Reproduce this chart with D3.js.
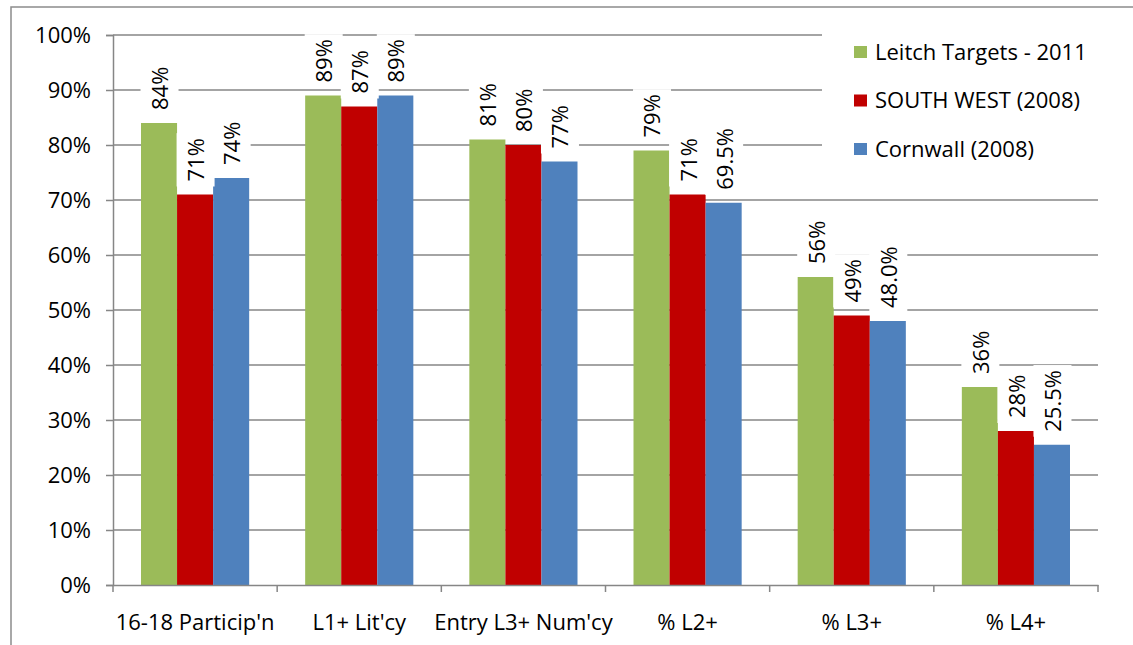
<!DOCTYPE html>
<html><head><meta charset="utf-8">
<script src="https://cdn.jsdelivr.net/npm/d3@7"></script>
<style>body{margin:0;background:#fff}svg{display:block}text{font-family:"Open Sans",sans-serif;fill:#000}</style>
</head><body><svg id="c" width="1133" height="645"></svg>
<script>
const categories = ["16-18 Particip'n", "L1+ Lit'cy", "Entry L3+ Num'cy", "% L2+", "% L3+", "% L4+"];
const seriesNames = ["Leitch Targets - 2011", "SOUTH WEST (2008)", "Cornwall (2008)"];
const seriesColors = ["#9BBB59", "#C00000", "#4F81BD"];
const leitch = [84, 89, 81, 79, 56, 36];
const southWest = [71, 87, 80, 71, 49, 28];
const cornwall = [74, 89, 77, 69.5, 48, 25.5];
const leitchLabels = ["84%", "89%", "81%", "79%", "56%", "36%"];
const southWestLabels = ["71%", "87%", "80%", "71%", "49%", "28%"];
const cornwallLabels = ["74%", "89%", "77%", "69.5%", "48.0%", "25.5%"];
const yTicks = [0, 10, 20, 30, 40, 50, 60, 70, 80, 90, 100];

const values = [leitch, southWest, cornwall];
const labels = [leitchLabels, southWestLabels, cornwallLabels];

const svg = d3.select("#c");
const L = 113, R = 1098, T = 35, B = 585;
const FS = "22px";

// outer frame
svg.append("rect").attr("x", 11).attr("y", 7).attr("width", 1140).attr("height", 660)
  .attr("fill", "none").attr("stroke", "#8c8c8c").attr("stroke-width", 1.5);

const x0 = d3.scaleBand().domain(categories).range([L, R]);
const x1 = d3.scaleBand().domain(d3.range(3)).range([28, x0.bandwidth() - 28]);
const y = d3.scaleLinear().domain([0, 100]).range([B, T]);

// gridlines
svg.append("g").selectAll("line").data(yTicks.filter(d => d > 0)).join("line")
  .attr("x1", L).attr("x2", R).attr("y1", d => y(d)).attr("y2", d => y(d))
  .attr("stroke", "#868686").attr("stroke-width", 1.5);

// y axis
const yAxis = d3.axisLeft(y).tickValues(yTicks).tickFormat(d => d + "%").tickSize(7).tickPadding(15);
const gy = svg.append("g").attr("transform", `translate(${L},0)`).call(yAxis);
gy.select(".domain").attr("stroke", "#868686").attr("stroke-width", 1.5);
gy.selectAll(".tick line").attr("stroke", "#868686").attr("stroke-width", 1.5);
gy.selectAll("text").style("font-size", FS).attr("font-family", null);

// bars
const groups = svg.append("g").selectAll("g").data(categories).join("g")
  .attr("transform", d => `translate(${x0(d)},0)`);
groups.each(function(cat, ci) {
  const g = d3.select(this);
  for (let s = 0; s < 3; s++) {
    g.append("rect").attr("x", x1(s)).attr("width", x1.bandwidth())
      .attr("y", y(values[s][ci])).attr("height", y(0) - y(values[s][ci]))
      .attr("fill", seriesColors[s]);
  }
});

// x axis
const xAxis = d3.axisBottom(x0).tickSize(0).tickPadding(29);
const gx = svg.append("g").attr("transform", `translate(0,${B})`).call(xAxis);
gx.select(".domain").attr("stroke", "#868686").attr("stroke-width", 1.5);
gx.selectAll("text").style("font-size", FS).attr("font-family", null);
const bounds = categories.map(c => x0(c)).concat([R]);
svg.append("g").selectAll("line").data(bounds).join("line")
  .attr("x1", d => d).attr("x2", d => d).attr("y1", B).attr("y2", B + 7)
  .attr("stroke", "#868686").attr("stroke-width", 1.5);

// data labels
const lg = svg.append("g");
categories.forEach((cat, ci) => {
  for (let s = 0; s < 3; s++) {
    const cx = x0(cat) + x1(s) + x1.bandwidth() / 2;
    const top = y(values[s][ci]) - 13;
    const box = lg.append("rect").attr("fill", "#fff");
    const t = lg.append("text").attr("transform", `translate(${cx + 1},${top}) rotate(-90)`)
      .attr("dy", "0.36em").style("font-size", FS).text(labels[s][ci]);
    const len = t.node().getComputedTextLength();
    box.attr("x", cx - 18.5).attr("width", 38).attr("y", top - len - 5).attr("height", len + 10);
  }
});

// legend
const leg = svg.append("g");
leg.append("rect").attr("x", 822).attr("y", 20).attr("width", 276).attr("height", 155).attr("fill", "#fff");
seriesNames.forEach((n, i) => {
  const yy = 52 + i * 48.5;
  leg.append("rect").attr("x", 854).attr("y", yy - 6).attr("width", 13).attr("height", 12).attr("fill", seriesColors[i]);
  leg.append("text").attr("x", 875).attr("y", yy).attr("dy", "0.36em").style("font-size", FS).text(n);
});
</script></body></html>
